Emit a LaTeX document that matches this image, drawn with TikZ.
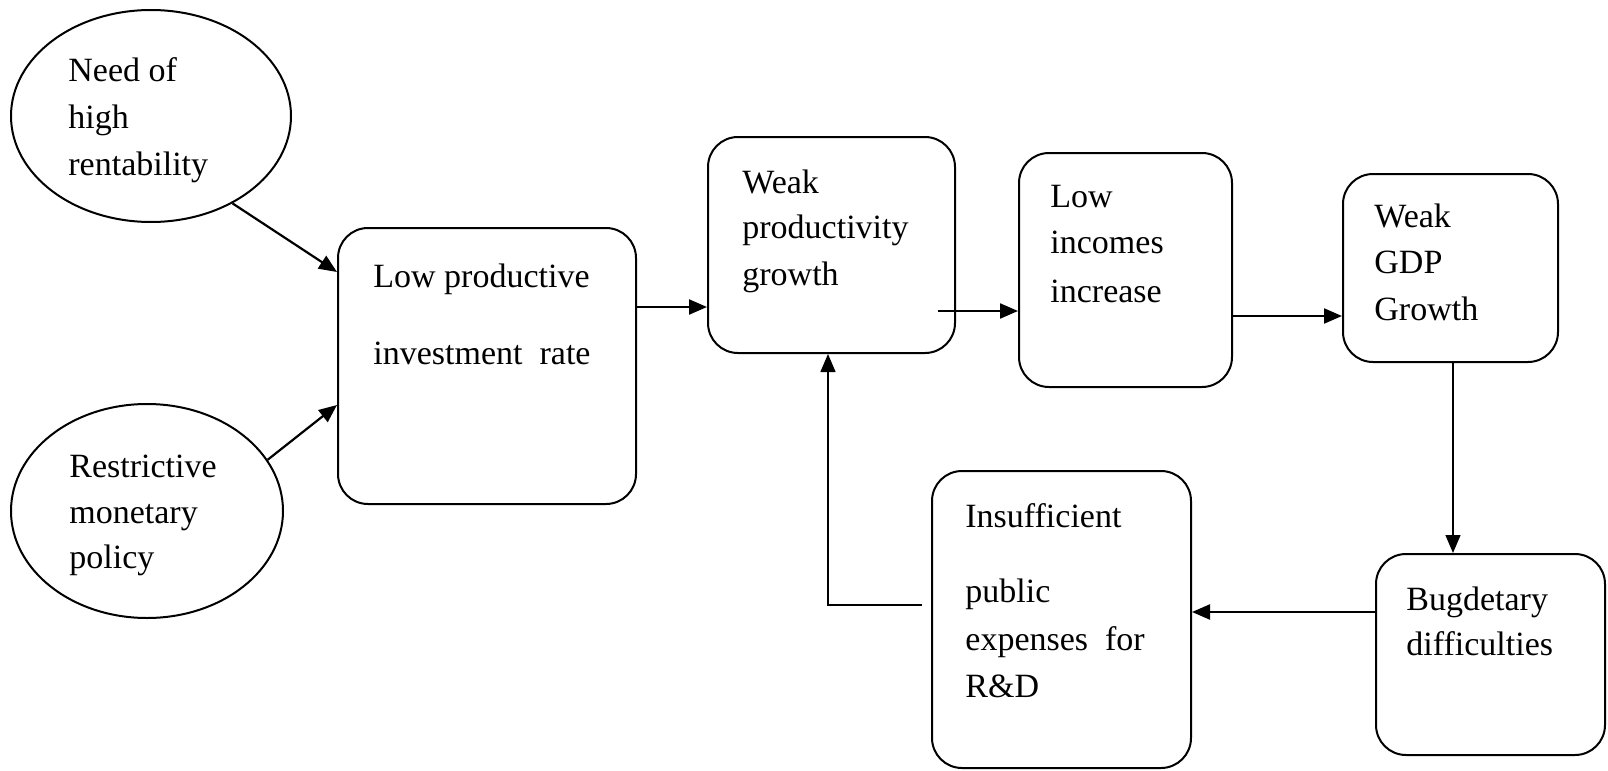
\documentclass[tikz,border=0pt]{standalone}
\usepackage{fontspec}
\setmainfont{Liberation Serif}
\usetikzlibrary{shapes.geometric,arrows.meta,calc}
\tikzset{
  box/.style={draw, rounded corners=15pt, line width=1pt, inner sep=0pt},
  oval/.style={draw, ellipse, line width=1pt, inner sep=0pt},
  txt/.style={anchor=base west, inner sep=0pt, font=\fontsize{17pt}{20pt}\selectfont},
  arr/.style={line width=1.1pt, -{Triangle[length=9pt,width=7.5pt]}},
  thinarr/.style={line width=0.7pt, -{Triangle[length=9pt,width=7.5pt]}}
}
\begin{document}
\begin{tikzpicture}[x=0.5pt,y=-0.5pt]
\useasboundingbox (0,0) rectangle (1608,771);
% ellipses
\node[oval, minimum width=140pt, minimum height=106pt] (e1) at (151,116) {};
\node[oval, minimum width=136pt, minimum height=107pt] (e2) at (147,511) {};
% boxes
\node[box, minimum width=149pt, minimum height=138pt] (lp) at (487,366) {};
\node[box, minimum width=123.5pt, minimum height=108pt] (wp) at (831.5,245) {};
\node[box, minimum width=106.5pt, minimum height=117pt] (li) at (1125.5,270) {};
\node[box, minimum width=107.5pt, minimum height=94pt] (wg) at (1450.5,268) {};
\node[box, minimum width=114.5pt, minimum height=100.5pt] (bd) at (1490.5,654.5) {};
\node[box, minimum width=129.5pt, minimum height=148.5pt] (in) at (1061.5,619.5) {};
% texts
\node[txt] (e1a) at (68,81) {Need of};
\node[txt] (e1b) at (68,128) {high};
\node[txt] (e1c) at (68,175) {rentability};
\node[txt] (e2a) at (69,477) {Restrictive};
\node[txt] (e2b) at (69,523) {monetary};
\node[txt] (e2c) at (69,568) {policy};
\node[txt] (lpa) at (373,287) {Low productive};
\node[txt] (lpb) at (373,364) {investment\ \ rate};
\node[txt] (wpa) at (742,193) {Weak};
\node[txt] (wpb) at (742,238) {productivity};
\node[txt] (wpc) at (742,285) {growth};
\node[txt] (lia) at (1050,207) {Low};
\node[txt] (lib) at (1050,253) {incomes};
\node[txt] (lic) at (1050,302) {increase};
\node[txt] (wga) at (1374,227) {Weak};
\node[txt] (wgb) at (1374,273) {GDP};
\node[txt] (wgc) at (1374,320) {Growth};
\node[txt] (ina) at (965,527) {Insufficient};
\node[txt] (inb) at (965,602) {public};
\node[txt] (inc) at (965,650) {expenses\ \ for};
\node[txt] (ind) at (965,697) {R\&D};
\node[txt] (bda) at (1406,610) {Bugdetary};
\node[txt] (bdb) at (1406,655) {difficulties};
% connectors
\draw[arr] (e1.-47) -- ($(lp.north west)+(0,45)$);
\draw[arr] (e2.23) -- ($(lp.north west)+(0,178)$);
\draw[arr] ($(lp.north east)+(0,80)$) -- ($(wp.north west)+(0,171)$);
\draw[arr] ($(wp.north east)+(-18,175)$) -- ($(li.north west)+(0,159)$);
\draw[arr] ($(li.north east)+(0,164)$) -- ($(wg.north west)+(0,143)$);
\draw[thinarr] ($(wg.south west)+(111,0)$) -- ($(bd.north west)+(78,0)$);
\draw[arr] ($(bd.north west)+(0,59)$) -- ($(in.north east)+(0,142)$);
\draw[thinarr] ($(in.north west)+(-9,135)$) -| ($(wp.south west)+(121,0)$);
\end{tikzpicture}
\end{document}
